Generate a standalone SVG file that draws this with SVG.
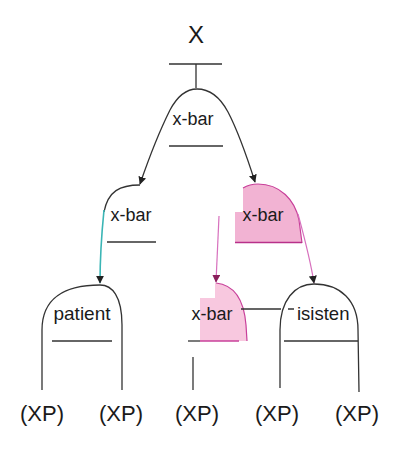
<svg xmlns="http://www.w3.org/2000/svg" width="400" height="464" viewBox="0 0 400 464">
<style>
.t{font-family:"Liberation Sans",Arial,sans-serif;fill:#1a1a1a}
.lbl{font-size:18px}
.xp{font-size:22px}
.ln{fill:none;stroke:#333;stroke-width:1.3}
.pk{fill:none;stroke:#c8409a;stroke-width:1.2}
.pkl{fill:none;stroke:#d770bd;stroke-width:1.2}
.tl{fill:none;stroke:#3ab5b5;stroke-width:1.6}
</style>
<defs>
<marker id="ab" viewBox="0 0 10 10" refX="9" refY="5" markerWidth="8" markerHeight="8" markerUnits="userSpaceOnUse" orient="auto"><path d="M0,0 L10,5 L0,10 Z" fill="#222"/></marker>
<marker id="am" viewBox="0 0 10 10" refX="9" refY="5" markerWidth="8" markerHeight="8" markerUnits="userSpaceOnUse" orient="auto"><path d="M0,0 L10,5 L0,10 Z" fill="#8a1f5c"/></marker>
</defs>
<rect width="400" height="464" fill="#fff"/>
<g id="root">
<text class="t" x="196" y="43" font-size="24" text-anchor="middle">X</text>
<path class="ln" d="M169,64 H222 M196,64 V88"/>
</g>
<g id="top-xbar">
<text class="t lbl" x="193" y="125" text-anchor="middle">x-bar</text>
<path class="ln" d="M169,146 H223"/>
</g>
<g id="mid-left-xbar">
<text class="t lbl" x="131" y="221" text-anchor="middle">x-bar</text>
<path class="ln" d="M107,242 H156"/>
</g>
<g id="mid-right-xbar">
<path d="M243,188 C248,185 252,184 258,184 C280,184 295,200 299,220 L302,243 L235,243 L235,212 L243,212 Z" fill="#f2b3d3"/>
<path class="pk" d="M243,188 C248,185 252,184 258,184 C280,184 295,200 299,220 L302,243"/>
<text class="t lbl" x="263" y="221" text-anchor="middle">x-bar</text>
<path d="M235,242.5 H302" stroke="#b8308a" stroke-width="1.6"/>
</g>
<g id="patient">
<path class="ln" d="M42,390 L42,330 C42,298 65,285 100,285 C112,285 122,296 122,325 L122,390"/>
<text class="t" x="82" y="320" font-size="19" text-anchor="middle">patient</text>
<path class="ln" d="M52,341 H112"/>
</g>
<g id="bottom-xbar">
<path d="M215,283 C235,285 244,300 246,325 L247,341 L200,341 L200,298 L215,298 Z" fill="#f8c8df"/>
<path class="pk" d="M216,283 C235,285 244,300 246,325 L247,341"/>
<text class="t lbl" x="212" y="320" text-anchor="middle">x-bar</text>
<path class="ln" d="M188,341 H200"/>
<path d="M200,341 H239" stroke="#c8409a" stroke-width="1.4"/>
<path class="ln" d="M193,357 V390"/>
</g>
<g id="isisten">
<path class="ln" d="M280,388 L280,330 C280,300 295,284 314,284 C340,284 358,300 358,330 L359,392"/>
<text class="t" x="297" y="320" font-size="18.5">isisten</text>
<path class="ln" d="M284,341 H358"/>
</g>
<g id="leaves">
<text class="t xp" x="42" y="421" text-anchor="middle">(XP)</text>
<text class="t xp" x="121" y="421" text-anchor="middle">(XP)</text>
<text class="t xp" x="197" y="421" text-anchor="middle">(XP)</text>
<text class="t xp" x="277" y="421" text-anchor="middle">(XP)</text>
<text class="t xp" x="357" y="421" text-anchor="middle">(XP)</text>
</g>
<g id="connectors">
<path class="ln" d="M170,110 C178,95 188,89 197,89 C210,89 220,97 228,112 C240,135 248,160 255,182" marker-end="url(#ab)"/>
<path class="ln" d="M170,110 C160,130 150,155 140,184" marker-end="url(#ab)"/>
<path class="ln" d="M140,185 C120,185 108,191 104,212"/>
<path class="tl" d="M104,210 C101,240 100,260 100,283" marker-end="url(#ab)"/>
<path class="pkl" d="M298,214 C305,240 310,258 314,283" marker-end="url(#ab)"/>
<path class="pkl" d="M219,216 L216,282" marker-end="url(#am)"/>
<path class="ln" d="M241,309 H281 M288,309 H294"/>
</g>
</svg>
